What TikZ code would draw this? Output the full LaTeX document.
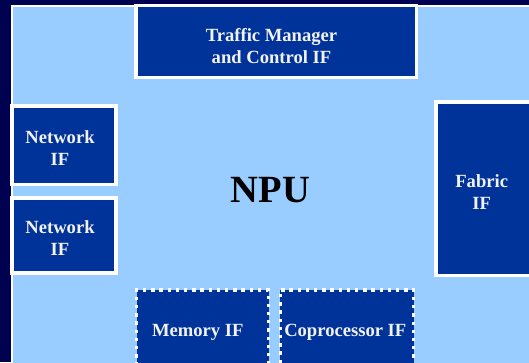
\documentclass[tikz,border=0pt]{standalone}
\usepackage{fontspec}
\setmainfont{Liberation Serif}
\definecolor{slidebg}{HTML}{000050}
\definecolor{chipbg}{HTML}{99CCFF}
\definecolor{ifblue}{HTML}{003399}
\definecolor{labelwhite}{HTML}{F2F2F2}
\begin{document}
\begin{tikzpicture}[x=1pt,y=-1pt,
  ifbox/.style={draw=white, fill=ifblue, line width=3.6pt, inner sep=0pt, outer sep=0pt},
  dotbox/.style={ifbox, line width=3.3pt, dash pattern=on 3.3pt off 4.9pt},
  iflabel/.style={text=labelwhite, align=center, inner sep=0pt, anchor=base,
    font=\fontsize{18.6}{22}\selectfont\bfseries},
  chiplabel/.style={text=black, inner sep=0pt, anchor=base,
    font=\fontsize{38.5}{40}\selectfont\bfseries}]
\useasboundingbox (0,0) rectangle (529,362);
\clip (0,0) rectangle (529,362);
% slide background and the chip area
\fill[slidebg] (0,0) rectangle (529,362);
\draw[white, line width=2pt, fill=chipbg] (12,6) rectangle (560,400);
% interface blocks around the chip
\node[ifbox, minimum width=280.5pt, minimum height=72.2pt] (tm) at (276.25,41.4) {};
\node[ifbox, minimum width=104pt, minimum height=78.5pt] (net1) at (64,145.25) {};
\node[ifbox, minimum width=104pt, minimum height=75.3pt] (net2) at (64,235.35) {};
\node[ifbox, minimum width=120pt, minimum height=173.3pt] (fab) at (496,188.65) {};
\node[dotbox, minimum width=132pt, minimum height=90pt] (mem) at (202.7,335) {};
\node[dotbox, minimum width=133.4pt, minimum height=90pt] (cop) at (347,335) {};
% labels (base anchor sits on the last line of a two-line label)
\node[iflabel] (tmtext) at (271.5,63.5) {Traffic Manager\\ and Control IF};
\node[iflabel] (net1text) at (60,165.5) {Network\\IF};
\node[iflabel] (net2text) at (60,255.5) {Network\\IF};
\node[iflabel] (fabtext) at (481.7,209.3) {Fabric\\IF};
\node[iflabel] (memtext) at (197.8,336.7) {Memory IF};
\node[iflabel] (coptext) at (345.3,336.7) {Coprocessor IF};
\node[chiplabel] (npu) at (270.5,202.7) {NPU};
\end{tikzpicture}
\end{document}
